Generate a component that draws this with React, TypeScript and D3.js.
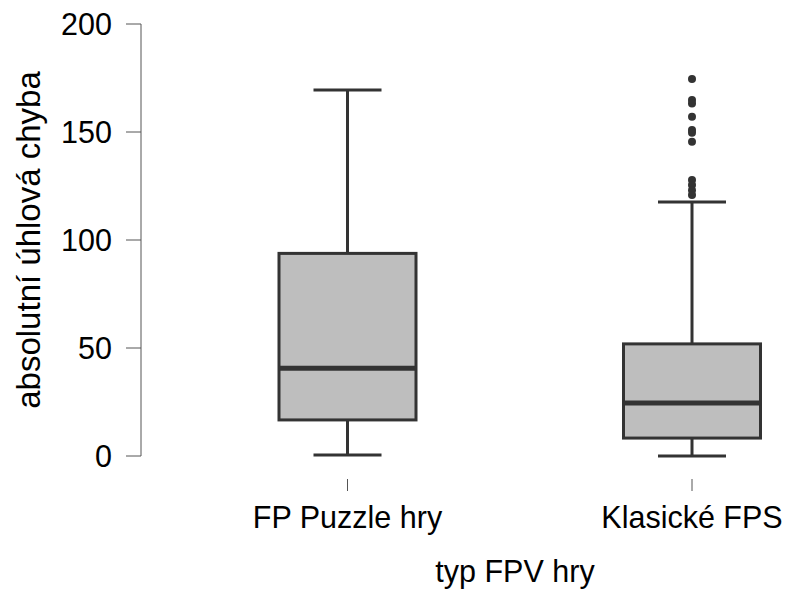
import React from "react";
import * as d3 from "d3";

const categories = ["FP Puzzle hry", "Klasické FPS"];
const whiskerLow = [0.5, 0];
const q1 = [16.7, 8.3];
const median = [40.6, 24.5];
const q3 = [93.8, 51.9];
const whiskerHigh = [169.5, 117.6];
const outliers = [
  [],
  [174.5, 164.8, 163.2, 157.1, 150.9, 149.7, 145.5, 127.8, 125.5, 123, 120.8],
];
const yTicks = [0, 50, 100, 150, 200];

const W = 787;
const H = 591;

export default function App() {
  const y = d3.scaleLinear().domain([0, 200]).range([456, 24]);
  const x = d3.scalePoint<string>().domain(categories).range([347.5, 692]);
  const boxW = 137;
  const capW = 68;
  const stroke = "#333333";
  const font = "'Liberation Sans', Arial, sans-serif";

  return (
    <svg width={W} height={H} style={{ position: "absolute", left: 0, top: 0, background: "#fff" }}>
      <g fontFamily={font} fontSize={30.5} fill="#000">
        {/* y axis */}
        <line x1={141} x2={141} y1={y(0)} y2={y(200)} stroke="#555" strokeWidth={1} />
        {yTicks.map((t) => (
          <g key={t}>
            <line x1={126} x2={141} y1={y(t)} y2={y(t)} stroke="#555" strokeWidth={1} />
            <text x={112} y={y(t)} dy="0.36em" textAnchor="end">{t}</text>
          </g>
        ))}
        <text transform={`translate(40,${y(100)}) rotate(-90)`} textAnchor="middle" fontSize={33}>
          absolutní úhlová chyba
        </text>

        {/* x axis ticks */}
        {categories.map((c) => (
          <g key={c}>
            <line x1={x(c)} x2={x(c)} y1={479} y2={491} stroke="#555" strokeWidth={1} />
            <text x={x(c)} y={528} textAnchor="middle">{c}</text>
          </g>
        ))}
        <text x={515} y={582} textAnchor="middle">typ FPV hry</text>

        {/* boxes */}
        {categories.map((c, i) => {
          const cx = x(c) as number;
          return (
            <g key={"b" + c} stroke={stroke}>
              <line x1={cx} x2={cx} y1={y(whiskerHigh[i])} y2={y(q3[i])} strokeWidth={3} />
              <line x1={cx} x2={cx} y1={y(q1[i])} y2={y(whiskerLow[i])} strokeWidth={3} />
              <line x1={cx - capW / 2} x2={cx + capW / 2} y1={y(whiskerHigh[i])} y2={y(whiskerHigh[i])} strokeWidth={3} />
              <line x1={cx - capW / 2} x2={cx + capW / 2} y1={y(whiskerLow[i])} y2={y(whiskerLow[i])} strokeWidth={3} />
              <rect
                x={cx - boxW / 2}
                y={y(q3[i])}
                width={boxW}
                height={y(q1[i]) - y(q3[i])}
                fill="#bebebe"
                strokeWidth={3}
              />
              <line x1={cx - boxW / 2} x2={cx + boxW / 2} y1={y(median[i])} y2={y(median[i])} strokeWidth={5} />
              {outliers[i].map((v, j) => (
                <circle key={j} cx={cx} cy={y(v)} r={4} fill={stroke} stroke="none" />
              ))}
            </g>
          );
        })}
      </g>
    </svg>
  );
}
